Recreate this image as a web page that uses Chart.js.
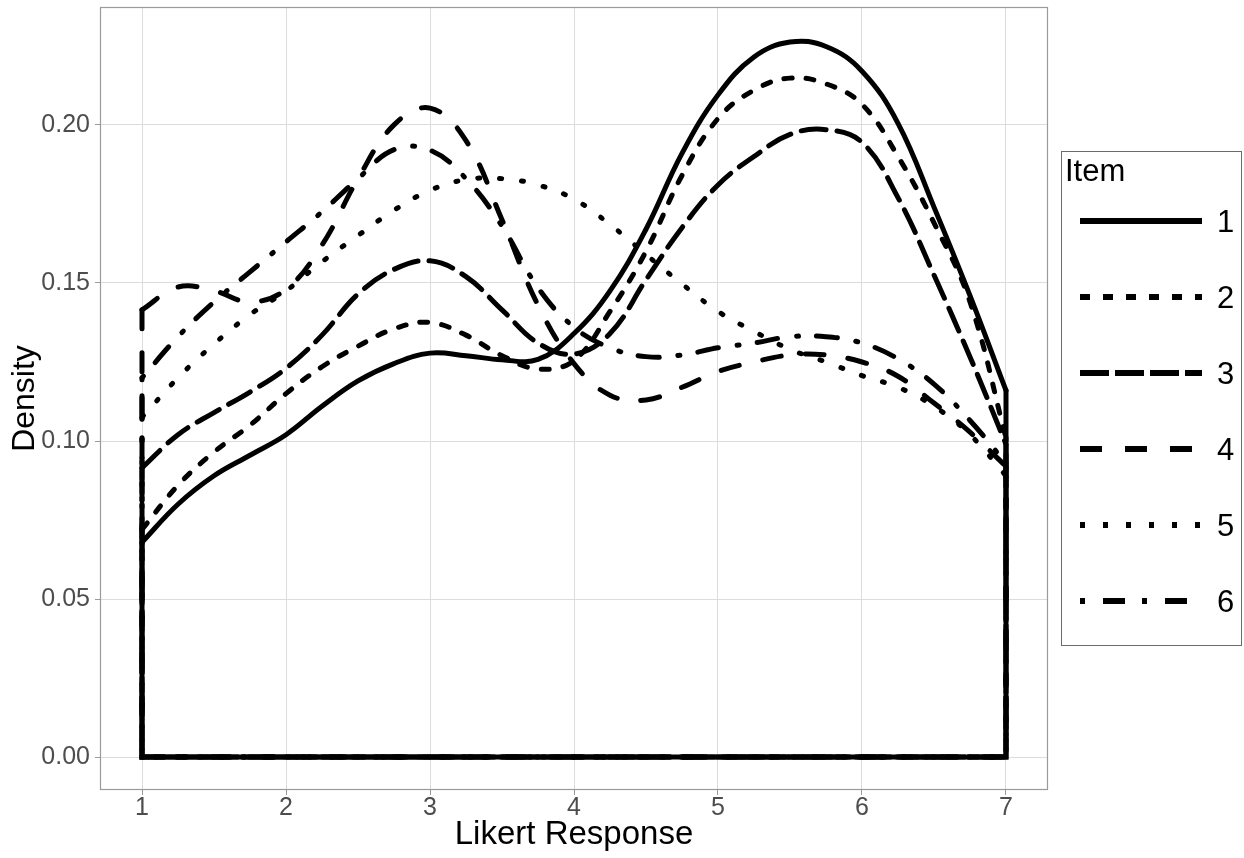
<!DOCTYPE html>
<html>
<head>
<meta charset="utf-8">
<script src="https://cdn.jsdelivr.net/npm/chart.js@4.4.1/dist/chart.umd.min.js"></script>
<style>
  html, body { margin: 0; padding: 0; background: #fff; }
</style>
</head>
<body>
<canvas id="chart" width="1244" height="858"></canvas>
<script>
// Likert response grid (density evaluated every quarter step)
const likert = [1, 1.25, 1.5, 1.75, 2, 2.25, 2.5, 2.75, 3, 3.25, 3.5, 3.75, 4,
                4.25, 4.5, 4.75, 5, 5.25, 5.5, 5.75, 6, 6.25, 6.5, 6.75, 7];

const item1 = [0.068, 0.080, 0.089, 0.0955, 0.102, 0.111, 0.119, 0.1245, 0.1278, 0.127, 0.1257, 0.1258, 0.134,
               0.1475, 0.167, 0.191, 0.2095, 0.2215, 0.2262, 0.2248, 0.217, 0.2005, 0.174, 0.146, 0.116];
const item2 = [0.072, 0.086, 0.0965, 0.105, 0.115, 0.1235, 0.1300, 0.1355, 0.1375, 0.1335, 0.127, 0.1228, 0.1255,
               0.141, 0.160, 0.184, 0.202, 0.211, 0.2148, 0.213, 0.2065, 0.190, 0.169, 0.144, 0.101];
const item3 = [0.0915, 0.102, 0.109, 0.1155, 0.123, 0.1335, 0.1465, 0.1543, 0.157, 0.152, 0.1415, 0.131, 0.1275,
               0.134, 0.151, 0.1675, 0.181, 0.190, 0.197, 0.1985, 0.1945, 0.177, 0.1525, 0.1266, 0.099];
const item4 = [0.1415, 0.1487, 0.1475, 0.144, 0.148, 0.162, 0.183, 0.200, 0.2053, 0.195, 0.170, 0.143, 0.1245,
               0.1145, 0.113, 0.117, 0.122, 0.125, 0.1272, 0.1272, 0.125, 0.1205, 0.112, 0.1028, 0.092];
const item5 = [0.1075, 0.120, 0.1307, 0.140, 0.1475, 0.1567, 0.165, 0.173, 0.1793, 0.1827, 0.183, 0.181, 0.1765,
               0.1685, 0.159, 0.1497, 0.141, 0.1347, 0.129, 0.125, 0.1207, 0.117, 0.111, 0.102, 0.089];
const item6 = [0.120, 0.133, 0.144, 0.1535, 0.163, 0.1725, 0.183, 0.1922, 0.192, 0.183, 0.168, 0.1485, 0.136,
               0.1295, 0.1267, 0.1272, 0.1295, 0.131, 0.133, 0.133, 0.131, 0.126, 0.118, 0.1065, 0.093];

const itemNames = ['1', '2', '3', '4', '5', '6'];
const xTicks = [1, 2, 3, 4, 5, 6, 7];
const yTicks = [0, 0.05, 0.10, 0.15, 0.20];

const series = [item1, item2, item3, item4, item5, item6];

// line types for the plot (round caps) and the legend keys (butt caps)
const plotDash = [[], [8, 14], [25, 11], [19, 24], [2, 20], [2, 18, 21, 19]];
const keyDash = [[], [10, 13], [29, 6], [22, 23], [5, 18], [5, 18, 22, 17]];

const FONT = '"Liberation Sans", Arial, sans-serif';

const datasets = [];
series.forEach((vals, i) => {
  datasets.push({
    label: itemNames[i],
    data: likert.map((x, j) => ({ x: x, y: vals[j] })),
    showLine: true,
    borderColor: '#000',
    borderWidth: 5,
    borderDash: plotDash[i],
    borderCapStyle: 'round',
    borderJoinStyle: 'round',
    tension: 0.4,
    pointRadius: 0,
    order: 6 - i
  });
  // outline of the density polygon: down at x=1, along zero, up at x=7
  const last = likert.length - 1;
  datasets.push({
    label: itemNames[i] + '-edge',
    data: [
      { x: likert[0], y: vals[0] },
      { x: likert[0], y: 0 },
      { x: likert[last], y: 0 },
      { x: likert[last], y: vals[last] }
    ],
    showLine: true,
    borderColor: '#000',
    borderWidth: 5,
    borderDash: plotDash[i],
    borderCapStyle: 'round',
    borderJoinStyle: 'miter',
    tension: 0,
    pointRadius: 0,
    order: 6 - i
  });
});

const panelBorder = {
  id: 'panelBorder',
  afterDraw(chart) {
    const a = chart.chartArea;
    const ctx = chart.ctx;
    ctx.save();
    ctx.strokeStyle = '#9a9a9a';
    ctx.lineWidth = 1.2;
    ctx.strokeRect(a.left + 0.5, a.top + 0.5, a.right - a.left - 1, a.bottom - a.top - 1);
    ctx.restore();
  }
};

const itemLegend = {
  id: 'itemLegend',
  afterDraw(chart) {
    const ctx = chart.ctx;
    ctx.save();
    ctx.strokeStyle = '#6b6b6b';
    ctx.lineWidth = 1;
    ctx.strokeRect(1061.5, 151.5, 180, 494);
    ctx.fillStyle = '#000';
    ctx.font = '31px ' + FONT;
    ctx.textBaseline = 'alphabetic';
    ctx.fillText('Item', 1065, 181);
    itemNames.forEach((name, i) => {
      const y = 221 + i * 76;
      ctx.strokeStyle = '#000';
      ctx.lineWidth = 6;
      ctx.lineCap = 'butt';
      ctx.setLineDash(keyDash[i]);
      ctx.beginPath();
      ctx.moveTo(1080, y);
      ctx.lineTo(1202, y);
      ctx.stroke();
      ctx.setLineDash([]);
      ctx.textBaseline = 'middle';
      ctx.fillText(name, 1217, y + 2);
    });
    ctx.restore();
  }
};

new Chart(document.getElementById('chart'), {
  type: 'scatter',
  data: { datasets: datasets },
  options: {
    responsive: false,
    animation: false,
    devicePixelRatio: 1,
    layout: { padding: { top: 7, right: 196, bottom: 0, left: 0 } },
    plugins: {
      legend: { display: false },
      tooltip: { enabled: false }
    },
    scales: {
      x: {
        type: 'linear',
        min: 0.7083,
        max: 7.2917,
        afterBuildTicks: (scale) => { scale.ticks = xTicks.map(v => ({ value: v })); },
        afterFit: (scale) => {
          scale.height = 68;
          scale.paddingLeft = 0;
          scale.paddingRight = 0;
        },
        grid: { color: '#dcdcdc', lineWidth: 1, tickLength: 5, tickColor: '#9a9a9a' },
        border: { display: false },
        ticks: {
          color: '#4d4d4d',
          font: { family: FONT, size: 25 },
          padding: -2,
          maxRotation: 0,
          callback: (v) => String(v)
        },
        title: {
          display: true,
          text: 'Likert Response',
          color: '#000',
          font: { family: FONT, size: 33, lineHeight: 1.2 },
          padding: { top: 0, bottom: 3 }
        }
      },
      y: {
        type: 'linear',
        min: -0.0104,
        max: 0.2373,
        afterBuildTicks: (scale) => { scale.ticks = yTicks.map(v => ({ value: v })); },
        afterFit: (scale) => {
          scale.width = 100;
          scale.paddingTop = 0;
          scale.paddingBottom = 0;
        },
        grid: { color: '#dcdcdc', lineWidth: 1, tickLength: 5, tickColor: '#9a9a9a' },
        border: { display: false },
        ticks: {
          color: '#4d4d4d',
          font: { family: FONT, size: 25 },
          padding: 5,
          callback: (v) => v.toFixed(2)
        },
        title: {
          display: true,
          text: 'Density',
          color: '#000',
          font: { family: FONT, size: 32, lineHeight: 1.2 },
          padding: { top: 6, bottom: 0 }
        }
      }
    }
  },
  plugins: [panelBorder, itemLegend]
});
</script>
</body>
</html>
